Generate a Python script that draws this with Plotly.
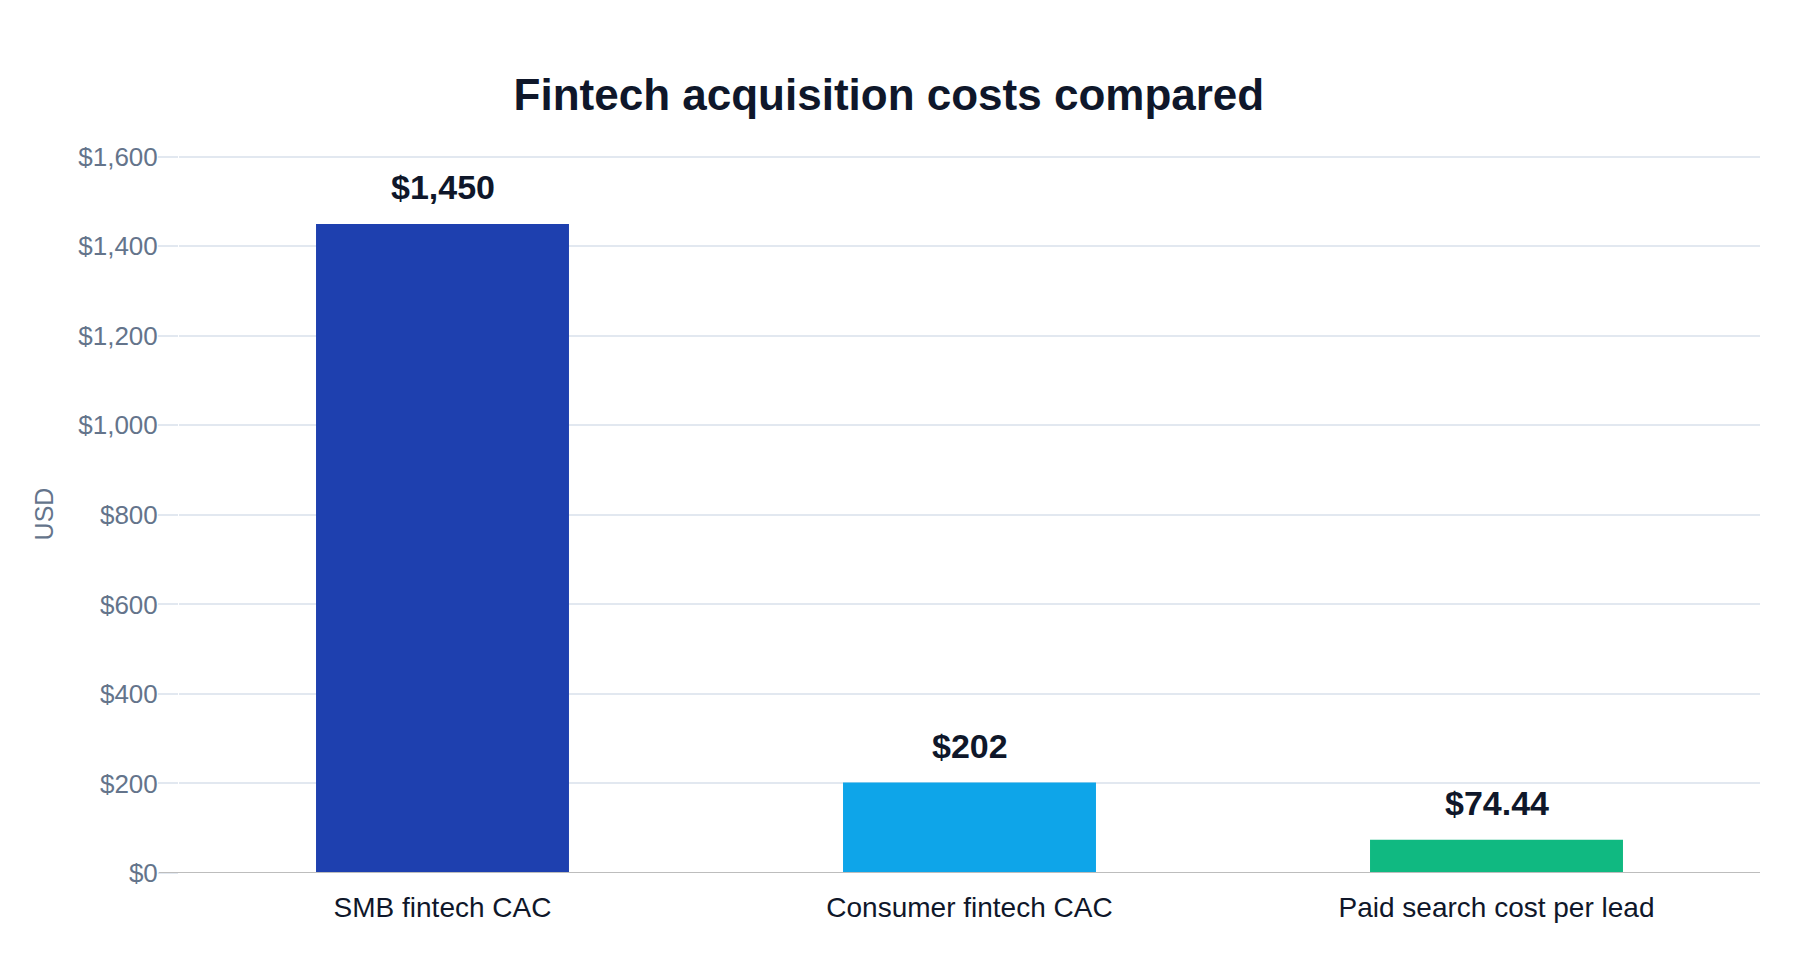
import plotly.graph_objects as go

categories = ["SMB fintech CAC", "Consumer fintech CAC", "Paid search cost per lead"]
values = [1450, 202, 74.44]
value_labels = ["$1,450", "$202", "$74.44"]
bar_colors = ["#1e40af", "#0ea5e9", "#10b981"]

W, H = 1800, 960
ML, MR, MT, MB = 171, 48, 147, 95

fig = go.Figure()
fig.add_trace(go.Bar(
    x=categories, y=values,
    marker=dict(color=bar_colors, line=dict(width=0)),
    hoverinfo="skip", showlegend=False,
))

for c, v, t in zip(categories, values, value_labels):
    fig.add_annotation(
        x=c, y=v, text="<b>%s</b>" % t, showarrow=False,
        xref="x", yref="y", yanchor="bottom", yshift=16,
        font=dict(family="Liberation Sans, Arial, sans-serif", size=34, color="#0f172a"),
    )

# zero line extension through tick area
fig.add_shape(type="line", xref="paper", yref="y",
              x0=-20 / (W - ML - MR), x1=1, y0=0, y1=0,
              line=dict(color="#bdbdbd", width=2), layer="above")

fig.update_layout(
    width=W, height=H,
    margin=dict(l=ML, r=MR, t=MT, b=MB),
    paper_bgcolor="white", plot_bgcolor="white",
    font=dict(family="Liberation Sans, Arial, sans-serif"),
    title=dict(
        text="<b>Fintech acquisition costs compared</b>",
        x=0.4894, xanchor="center", xref="container",
        y=1 - 102 / H, yanchor="bottom", yref="container",
        font=dict(size=44, color="#0f172a"),
    ),
    bargap=0.52,
    xaxis=dict(
        showgrid=False, zeroline=False, showline=False,
        tickfont=dict(size=28, color="#0f172a"),
        ticks="", ticklabelstandoff=15,
    ),
    yaxis=dict(
        range=[0, 1604], tick0=0, dtick=200, tickprefix="$", tickformat=",",
        showgrid=True, gridcolor="#e2e8f0", gridwidth=2,
        zeroline=False, showline=False,
        ticks="outside", ticklen=20, tickcolor="#e2e8f0", tickwidth=2,
        ticklabelstandoff=-5,
        tickfont=dict(size=26, color="#64748b"),
        title=dict(text="USD", font=dict(size=25, color="#64748b"), standoff=17),
    ),
)

fig.write_html("out.html")
